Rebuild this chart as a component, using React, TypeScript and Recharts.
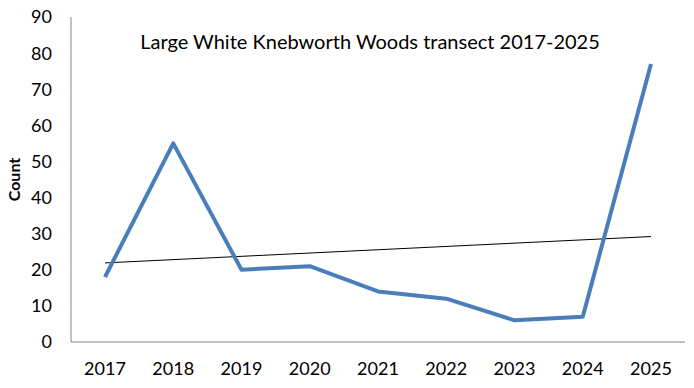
import React from 'react';
import {
  LineChart,
  Line,
  XAxis,
  YAxis,
  Label
} from 'recharts';

const years = ['2017', '2018', '2019', '2020', '2021', '2022', '2023', '2024', '2025'];
const counts = [18, 55, 20, 21, 14, 12, 6, 7, 77];
// trendline: only its two ends are shown
const trend = [21.9, null, null, null, null, null, null, null, 29.2];
const yTicks = [0, 10, 20, 30, 40, 50, 60, 70, 80, 90];

const data = years.map((year, i) => ({
  year,
  count: counts[i],
  trend: trend[i]
}));

const FONT = 'Lato, "Open Sans", sans-serif';

const App: React.FC = () => {
  return (
    <div style={{ position: 'absolute', left: 0, top: 0, width: 694, height: 388, background: '#fff' }}>
      <LineChart
        width={694}
        height={388}
        data={data}
        margin={{ top: 17, right: 9, left: 31, bottom: 16 }}
      >
        <XAxis
          dataKey="year"
          height={30}
          padding={{ left: 34, right: 34 }}
          axisLine={{ stroke: '#868686' }}
          tickLine={false}
          tickMargin={14}
          tick={{ fill: '#000', fontSize: 18, fontFamily: FONT }}
        />
        <YAxis
          width={40}
          domain={[0, 90]}
          ticks={yTicks}
          interval={0}
          axisLine={{ stroke: '#868686' }}
          tickLine={false}
          tickMargin={13}
          tick={{ fill: '#000', fontSize: 18, fontFamily: FONT }}
        >
          <Label
            value="Count"
            angle={-90}
            position="insideLeft"
            offset={-17}
            style={{ fill: '#000', fontSize: 16, fontWeight: 700, fontFamily: FONT, textAnchor: 'middle' }}
          />
        </YAxis>

        <Line
          dataKey="trend"
          stroke="#000"
          strokeWidth={1}
          dot={false}
          connectNulls
          isAnimationActive={false}
        />
        <Line
          dataKey="count"
          stroke="#4A7EBB"
          strokeWidth={4}
          dot={false}
          strokeLinejoin="round"
          isAnimationActive={false}
        />

        <text
          x={370}
          y={49}
          textAnchor="middle"
          style={{ fill: '#000', fontSize: 20, fontFamily: FONT }}
        >
          Large White Knebworth Woods transect 2017-2025
        </text>
      </LineChart>
    </div>
  );
};

export default App;
